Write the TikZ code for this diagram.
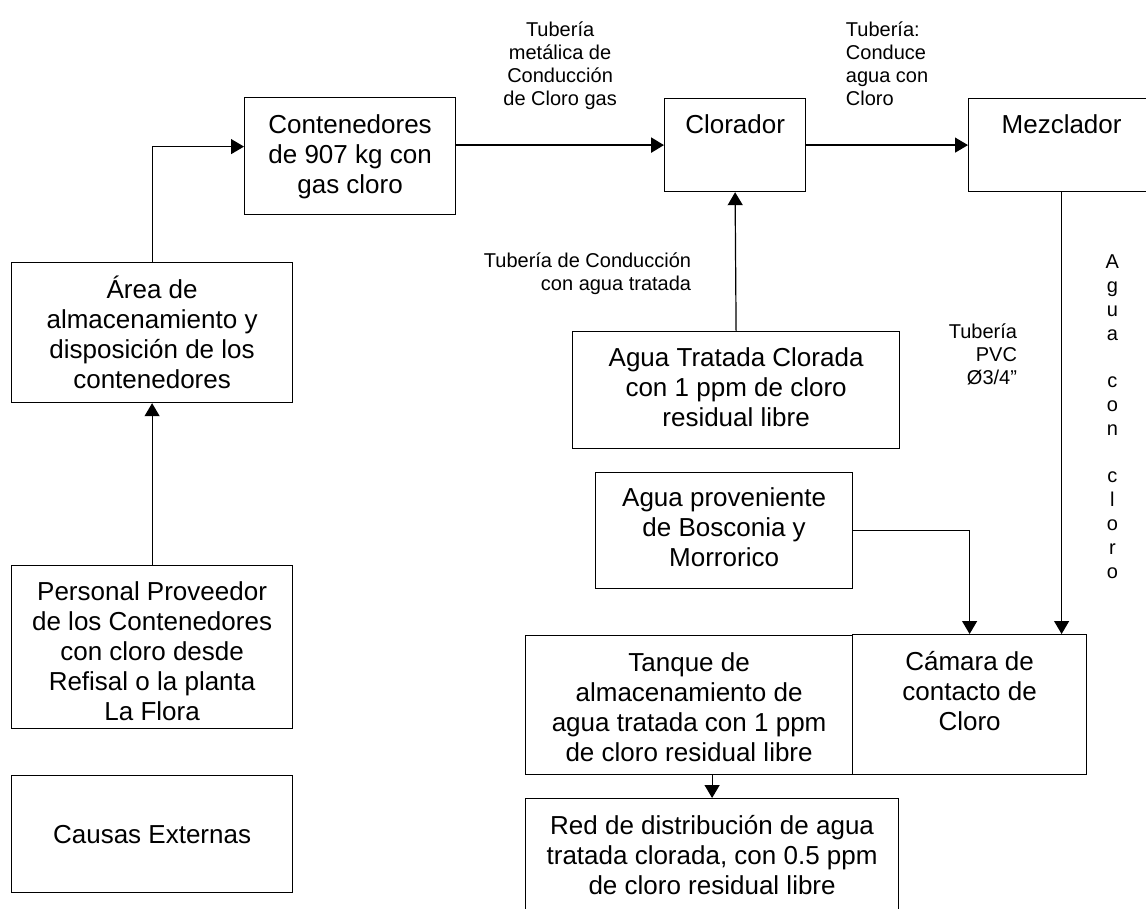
\documentclass[tikz,border=0pt]{standalone}
\usepackage{fontspec}
\setmainfont{Liberation Sans}
\usetikzlibrary{arrows.meta,positioning}

\begin{document}
\begin{tikzpicture}[x=0.5pt,y=-0.5pt,
    blk/.style={draw,line width=0.6pt,anchor=north west,inner sep=0pt},
    txt/.style={font=\fontsize{13pt}{15pt}\selectfont,align=center,inner sep=0pt},
    lbl/.style={font=\fontsize{10pt}{11.5pt}\selectfont,inner sep=0pt},
    arr/.style={-{Triangle[length=6.5pt,width=7.5pt]},line width=0.6pt}]
  \useasboundingbox (0,0) rectangle (1146,909);
  \clip (0,0) rectangle (1146,909);

  % left column
  \node[blk,minimum width=140.5pt,minimum height=70pt] (area) at (11,262) {};
  \node[txt,below=7pt of area.north] {Área de\\almacenamiento y\\disposición de los\\contenedores};
  \node[blk,minimum width=140.5pt,minimum height=81.5pt] (pers) at (11,565) {};
  \node[txt,below=8.2pt of pers.north] {Personal Proveedor\\de los Contenedores\\con cloro desde\\Refisal o la planta\\La Flora};
  \node[blk,minimum width=140.5pt,minimum height=58.5pt,txt] (caus) at (11,775) {Causas Externas};

  % top row
  \node[blk,minimum width=105.5pt,minimum height=58.5pt] (cont) at (244,97) {};
  \node[txt,below=8.5pt of cont.north] {Contenedores\\de 907 kg con\\gas cloro};
  \node[blk,minimum width=70.5pt,minimum height=46.5pt] (clor) at (664,98) {};
  \node[txt,below=8.2pt of clor.north] {Clorador};
  \node[blk,minimum width=93pt,minimum height=46.5pt] (mez) at (968,98) {};
  \node[txt,below=8.2pt of mez.north] {Mezclador};

  % middle
  \node[blk,minimum width=163.5pt,minimum height=58.5pt] (atc) at (572,331) {};
  \node[txt,below=8.2pt of atc.north] {Agua Tratada Clorada\\con 1 ppm de cloro\\residual libre};
  \node[blk,minimum width=128.5pt,minimum height=58pt] (prov) at (595,472) {};
  \node[txt,below=7.7pt of prov.north] {Agua proveniente\\de Bosconia y\\Morrorico};

  % bottom
  \node[blk,minimum width=163.5pt,minimum height=69.5pt] (tanq) at (525,635) {};
  \node[txt,below=8.7pt of tanq.north] {Tanque de\\almacenamiento de\\agua tratada con 1 ppm\\de cloro residual libre};
  \node[blk,minimum width=117pt,minimum height=70pt] (cam) at (852,634) {};
  \node[txt,below=8.5pt of cam.north] {Cámara de\\contacto de\\Cloro};
  \node[blk,minimum width=186.5pt,minimum height=65pt] (red) at (525,798) {};
  \node[txt,below=8.7pt of red.north] {Red de distribución de agua\\tratada clorada, con 0.5 ppm\\de cloro residual libre};

  % connectors
  \draw[arr] (pers.north) -- (area.south);
  \draw[arr] (area.north) |- ([yshift=4.75pt]cont.west);
  \draw[arr,line width=1.2pt] (cont.east |- clor.west) -- (clor.west)
    node[midway,above=17pt,lbl,align=center] {Tubería\\metálica de\\Conducción\\de Cloro gas};
  \draw[arr] (clor.east) -- (mez.west)
    node[midway,above=19.5pt,lbl,align=left] {Tubería:\\Conduce\\agua con\\Cloro};
  \draw[arr] (atc.north) -- (clor.south)
    node[pos=0.414,left=22pt,lbl,align=right] {Tubería de Conducción\\con agua tratada};
  \draw[arr] (prov.east) -| (cam.north);
  \draw[arr] (mez.south) -- (mez.south |- cam.north)
    node[pos=0.368,left=22pt,lbl,align=right] {Tubería\\PVC\\Ø3/4”}
    node[pos=0.508,right=21.75pt,lbl,align=center,font=\fontsize{10pt}{11.9pt}\selectfont] {A\\g\\u\\a\\~\\c\\o\\n\\~\\c\\l\\o\\r\\o};
  \draw[arr] (red.north |- tanq.south) -- (red.north);
\end{tikzpicture}
\end{document}
